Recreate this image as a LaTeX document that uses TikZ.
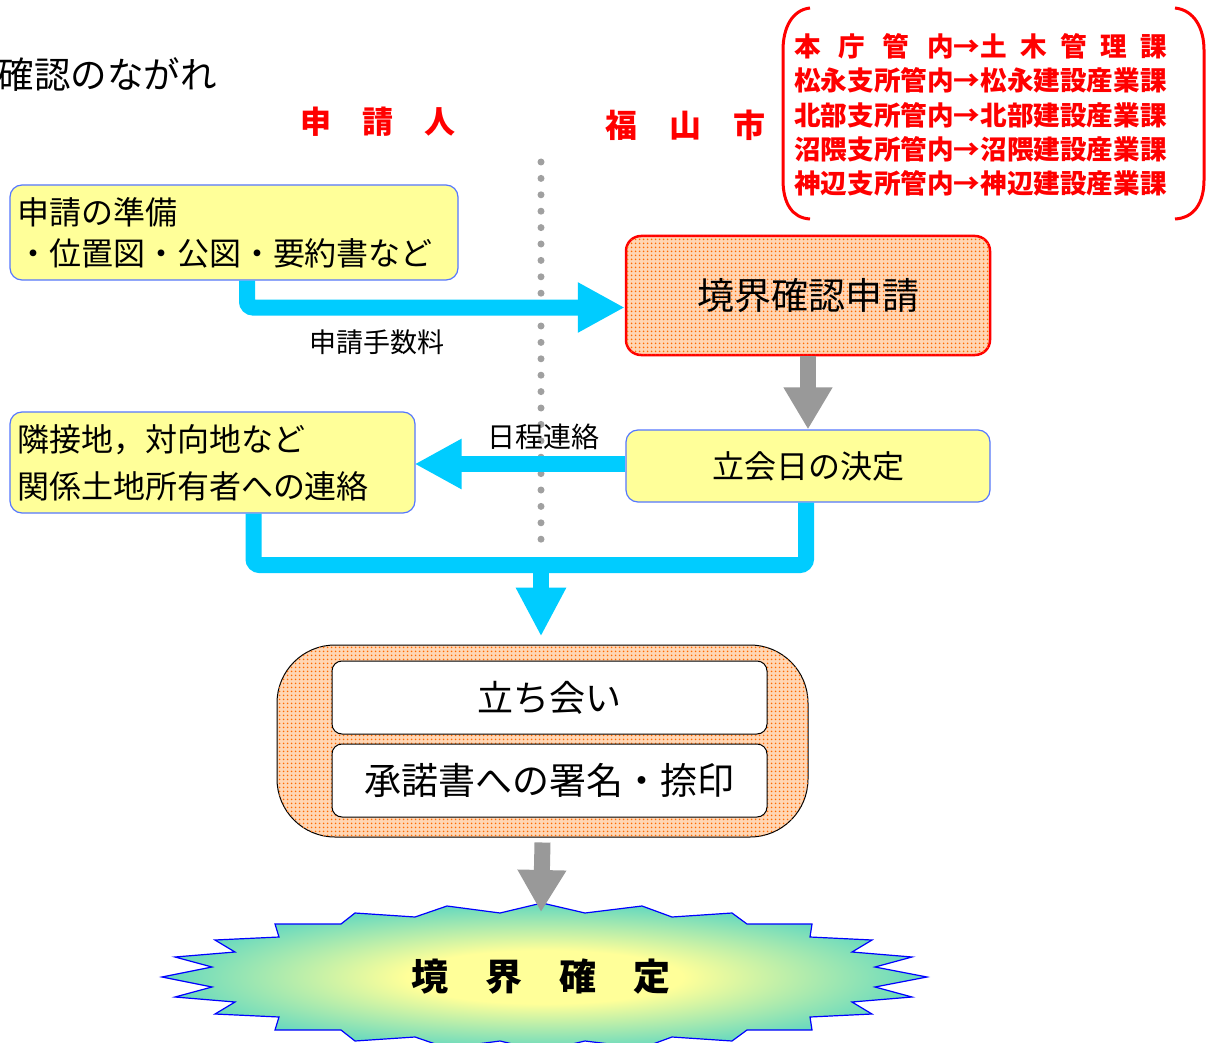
\documentclass[tikz,border=0pt]{standalone}
\usepackage{fontspec}
\setmainfont{Noto Sans CJK JP}
\usetikzlibrary{arrows.meta,patterns.meta,calc}
\definecolor{cy}{HTML}{00CCFF}
\definecolor{yfill}{HTML}{FFFF99}
\definecolor{bbor}{HTML}{5577FF}
\definecolor{gr}{HTML}{999999}
\definecolor{peach}{HTML}{FFD6B4}
\definecolor{dotor}{HTML}{FF6A00}
\definecolor{turq}{HTML}{33CCCC}
\definecolor{pyel}{HTML}{FFFF99}
\definecolor{dotgr}{HTML}{A0A0A0}
\pgfdeclareradialshading{burstshade}{\pgfpoint{0bp}{0bp}}{color(0bp)=(pyel); color(9bp)=(pyel); color(30bp)=(turq); color(50bp)=(turq)}
\newcommand{\fs}[2]{\fontsize{#1}{#2}\selectfont}
\begin{document}
\begin{tikzpicture}[x=1pt,y=-1pt,
  ybox/.style={draw=bbor,line width=1.2pt,fill=yfill,rounded corners=12pt,inner ysep=0pt,inner xsep=7pt},
  obox/.style={fill=peach,postaction={pattern={Dots[distance=4pt,radius=1.1pt]},pattern color=dotor}},
  wbox/.style={draw=black,line width=1pt,fill=white,rounded corners=10pt,minimum width=435pt,minimum height=73pt,inner sep=0pt,font=\fs{37}{40}},
  cyline/.style={draw=cy,line width=16pt,rounded corners=6pt},
  cyarrow/.style={cyline,-{Triangle[length=47pt,width=47pt]}},
  grarrow/.style={draw=gr,line width=16pt,-{Triangle[length=42pt,width=46pt]}},
  redtitle/.style={text=red,font=\bfseries\fs{31}{36},inner sep=0pt},
]
\useasboundingbox[fill=white] (0,0) rectangle (1218,1043);

% dotted divider
\coordinate (dtop) at (541,162);
\coordinate (dbot) at (541,540);
\draw[dotgr,line width=7pt,line cap=round,dash pattern=on 0pt off 16.4pt] (dtop) -- (dbot);

% title
\node[anchor=east,inner sep=0pt,font=\fs{36.5}{40}] (title) at (217,75) {確認のながれ};
\node[redtitle] (appl) at (377.5,122) {申　請　人};
\node[redtitle,font=\bfseries\fs{32}{36}] (city) at (685,125) {福　山　市};

% department list with bracket
\node[anchor=west,align=left,text=red,inner sep=0pt,font=\bfseries\fs{26.6}{34.2}] (dept) at (794,115)
 {\makebox[6em][s]{本\hfill{}庁\hfill{}管\hfill{}内}→\makebox[7em][s]{土\hfill{}木\hfill{}管\hfill{}理\hfill{}課}\\
  松永支所管内→松永建設産業課\\
  北部支所管内→北部建設産業課\\
  沼隈支所管内→沼隈建設産業課\\
  神辺支所管内→神辺建設産業課};
\draw[red,line width=3pt] (810,8) .. controls (792,10) and (783,28) .. (783,50) -- (783,180) .. controls (783,203) and (792,218) .. (810,219);
\draw[red,line width=3pt] (1175,8) .. controls (1194,10) and (1204,28) .. (1204,50) -- (1204,180) .. controls (1204,203) and (1194,218) .. (1175,219);

% boxes
\node[ybox,minimum width=448pt,minimum height=95pt,text width=434pt,align=left,font=\fs{32}{41}] (b1) at (234,232.5)
 {申請の準備\\・位置図・公図・要約書など};
\node[obox,draw=red,line width=2.5pt,rounded corners=15pt,minimum width=364pt,minimum height=119pt,inner sep=0pt,font=\fs{37}{40}] (b2) at (808,295.5) {境界確認申請};
\node[ybox,minimum width=364pt,minimum height=72pt,inner sep=0pt,font=\fs{32}{36}] (b3) at (808,466) {立会日の決定};
\node[ybox,minimum width=405pt,minimum height=101pt,text width=391pt,align=left,font=\fs{32}{47}] (b4) at (212.5,462.5)
 {隣接地，対向地など\\関係土地所有者への連絡};
\node[obox,draw=black,line width=1pt,rounded corners=58pt,minimum width=531pt,minimum height=192pt,inner sep=0pt] (b5) at (542.5,741) {};
\node[wbox,font=\fs{36}{40}] (s1) at (549.5,697.5) {立ち会い};
\node[wbox] (s2) at (549.5,780.5) {承諾書への署名・捺印};

% connectors
\draw[cyarrow] ([xshift=13pt]b1.south) |- ([yshift=-12pt]b2.west);
\node[font=\fs{27}{30},inner sep=0pt] (fee) at (377,342) {申請手数料};
\draw[grarrow] (b2.south) -- (b3.north);
\draw[cyarrow,shorten >=-1pt] ([yshift=2pt]b3.west) -- ([yshift=2pt]b3.west -| b4.east);
\node[font=\fs{28}{30},inner sep=0pt] (sched) at (543,437) {日程連絡};
\coordinate (m) at (541,565);
\draw[cyline] ([xshift=41pt]b4.south) |- ([xshift=-2pt]b3.south |- m) -- ([xshift=-2pt]b3.south);
\draw[draw=cy,line width=16pt,-{Triangle[length=49pt,width=47pt]},shorten >=8pt] (m) -- (m |- b5.north);

% burst
\path[draw=blue,line width=1.2pt,shading=burstshade]
 (162,977) -- (212,967) -- (175,957) -- (235,952) -- (215,940) -- (279,937) -- (275,924) -- (341,924) -- (355,913) -- (415,917) -- (447,906) -- (500,913) -- (542,903)
 -- (585,913) -- (642,906) -- (672,917) -- (732,913) -- (747,924) -- (812,924) -- (810,937) -- (872,940) -- (852,952) -- (912,957) -- (875,967) -- (927,977)
 -- (875,987) -- (912,997) -- (852,1002) -- (872,1014) -- (810,1017) -- (812,1030) -- (747,1030) -- (732,1041) -- (672,1037) -- (642,1048) -- (585,1041) -- (542,1051)
 -- (500,1041) -- (447,1048) -- (415,1037) -- (355,1041) -- (341,1030) -- (275,1030) -- (279,1017) -- (215,1014) -- (235,1002) -- (175,997) -- (212,987) -- cycle;
\node[inner sep=0pt,font=\bfseries\fs{37}{40}] (fin) at (541,977) {境　界　確　定};
\coordinate (btop) at (541,912);
\draw[grarrow] ([yshift=-5pt]b5.south) -- (btop);
\end{tikzpicture}
\end{document}
